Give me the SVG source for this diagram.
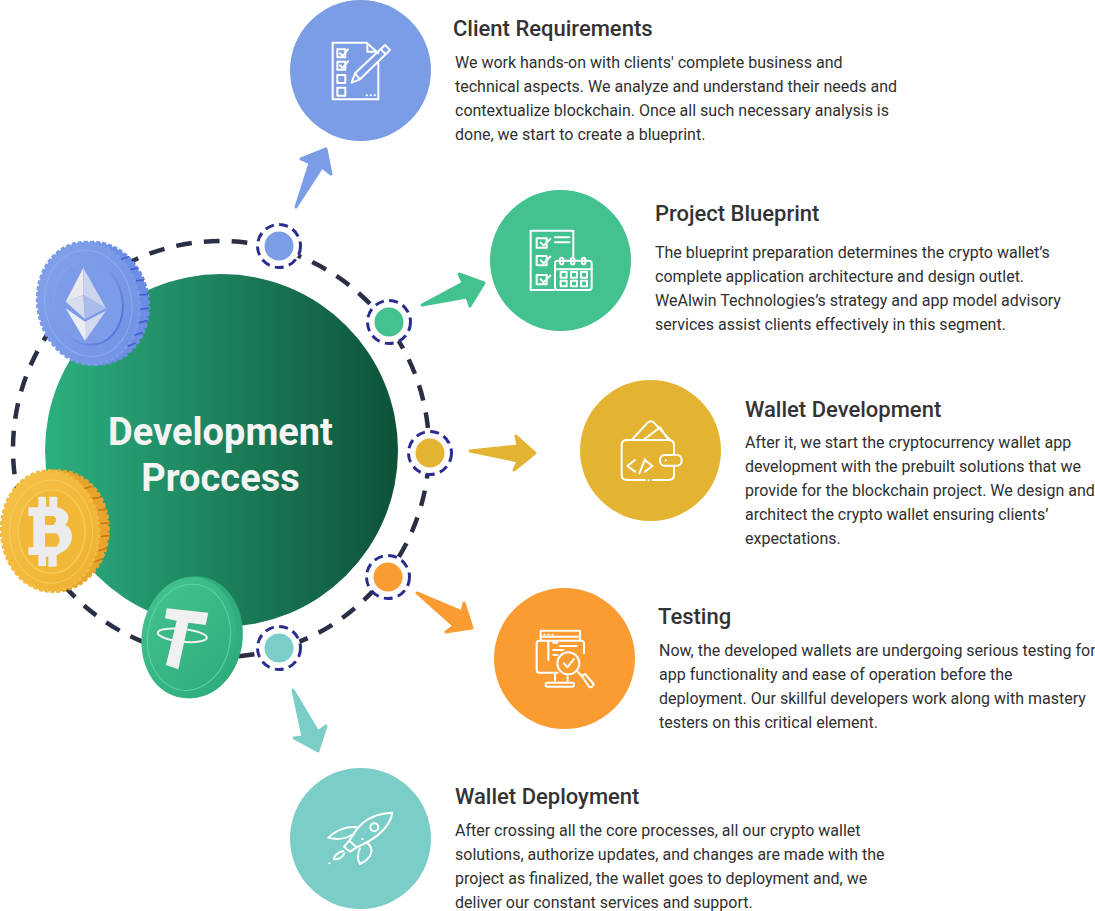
<svg xmlns="http://www.w3.org/2000/svg" width="1095" height="911" viewBox="0 0 1095 911">
<style>
text{font-family:Roboto,"Liberation Sans",sans-serif}
.h{font-size:22px;font-weight:500;fill:#333}
.b{font-size:16px;fill:#303030}
.t{font-size:38px;font-weight:700;fill:#f4f4f4;text-anchor:middle}
.ic{fill:none;stroke:#fff;stroke-width:6;stroke-linejoin:round;stroke-linecap:round}
.m{fill:#fff;stroke:#2a2c8f;stroke-width:3;stroke-dasharray:9 5.4}
.ar{stroke-width:3;stroke-linejoin:round}
.tick{stroke-width:5;stroke-linecap:round;fill:none}
.teeth{fill:none;stroke-width:9;stroke-dasharray:12 6}
</style>
<defs>
<linearGradient id="g" x1="0" x2="1" y1="0" y2="0"><stop offset="0" stop-color="#2cb07f"/><stop offset="1" stop-color="#0d5237"/></linearGradient>
<linearGradient id="gE" x1="0" x2="1" y1="0" y2="1"><stop offset="0" stop-color="#84a2ea"/><stop offset="1" stop-color="#7091e4"/></linearGradient>
<linearGradient id="sE" x1="0" x2="1" y1="0" y2="1"><stop offset="0" stop-color="#86a3ec"/><stop offset=".5" stop-color="#7a98e8"/><stop offset="1" stop-color="#4567d6"/></linearGradient>
<linearGradient id="gB" x1="0" x2="1" y1="0" y2="1"><stop offset="0" stop-color="#f6c34a"/><stop offset="1" stop-color="#efb02f"/></linearGradient>
<linearGradient id="gT" x1="0" x2="1" y1="0" y2="1"><stop offset="0" stop-color="#45c492"/><stop offset="1" stop-color="#2cab7a"/></linearGradient>
</defs>

<g id="connectors">
<circle cx="221" cy="449" r="208" fill="none" stroke="#2b2f45" stroke-width="4.500" stroke-dasharray="15.700 12.200" stroke-dashoffset="-14"/>
<polygon class="ar" fill="#7b9de6" stroke="#7b9de6" points="296,207 310,163 301,159 326,149 331,174 322,167"/>
<polygon class="ar" fill="#43c18f" stroke="#43c18f" points="422,305 463,283 459,274 484,283 470,306 467,297"/>
<polygon class="ar" fill="#e4b332" stroke="#e4b332" points="470,451 518,446 516,436 535,453 514,470 518,461"/>
<polygon class="ar" fill="#fb9c33" stroke="#fb9c33" points="417,593 462,612 464,603 472,628 446,632 454,626"/>
<polygon class="ar" fill="#7bcdc8" stroke="#7bcdc8" points="293,690 318,732 326,726 318,751 294,738 303,737"/>
</g>

<g id="center">
<circle cx="221.500" cy="450.500" r="176.500" fill="url(#g)"/>
<text class="t" x="220.500" y="445">Development</text>
<text class="t" x="220.500" y="491">Proccess</text>
</g>

<g id="dot-1"><circle class="m" cx="279" cy="246" r="21.500"/><circle cx="279" cy="246" r="14.500" fill="#7b9de6"/></g>
<g id="dot-2"><circle class="m" cx="389" cy="322" r="21.500"/><circle cx="389" cy="322" r="14.500" fill="#43c18f"/></g>
<g id="dot-3"><circle class="m" cx="430" cy="453" r="21.500"/><circle cx="430" cy="453" r="14.500" fill="#e4b332"/></g>
<g id="dot-4"><circle class="m" cx="388" cy="577" r="21.500"/><circle cx="388" cy="577" r="14.500" fill="#fb9c33"/></g>
<g id="dot-5"><circle class="m" cx="279" cy="648" r="21.500"/><circle cx="279" cy="648" r="14.500" fill="#7bcdc8"/></g>

<g id="coin-eth" transform="translate(0,220) scale(.3333)">
<ellipse cx="285" cy="250" rx="160" ry="184" transform="rotate(-10 285 250)" fill="#6d8ee4"/>
<ellipse cx="285" cy="250" rx="160" ry="184" transform="rotate(-10 285 250)" class="teeth" stroke="#6d8ee4"/>
<ellipse cx="265" cy="250" rx="152" ry="184" transform="rotate(-10 265 250)" fill="url(#gE)"/>
<ellipse cx="265" cy="250" rx="152" ry="184" transform="rotate(-10 265 250)" class="teeth" stroke="#7c9be8"/>
<ellipse cx="265" cy="250" rx="130" ry="160" transform="rotate(-10 265 250)" fill="none" stroke="#8fabf0" stroke-width="3"/>
<ellipse cx="265" cy="250" rx="103" ry="125" transform="rotate(-10 265 250)" fill="#7c9be8" stroke="url(#sE)" stroke-width="6"/>
<g class="tick" stroke="#3f5fd0">
<path d="M365 118l20-8M392 148l18-3M410 182l20-2M420 225l22-2M422 267l23-2M418 308l24-6M405 345l22-7M385 378l20-8"/>
</g>
<polygon points="250,143 197,245 250,225" fill="#e9e9ee"/>
<polygon points="250,143 250,225 318,265" fill="#ccd5ec"/>
<polygon points="197,245 250,225 255,297" fill="#d9deee"/>
<polygon points="250,225 318,265 255,297" fill="#a9bcea"/>
<polygon points="197,265 255,305 255,362" fill="#ecedf2"/>
<polygon points="255,305 318,272 255,362" fill="#d3daee"/>
</g>

<g id="coin-btc" transform="translate(0,460) scale(.3333)">
<ellipse cx="170" cy="213" rx="155" ry="181" transform="rotate(6 170 213)" fill="#e9a42b"/>
<ellipse cx="170" cy="213" rx="155" ry="181" transform="rotate(6 170 213)" class="teeth" stroke="#e9a42b"/>
<ellipse cx="150" cy="213" rx="146" ry="181" transform="rotate(-3 150 213)" fill="url(#gB)"/>
<ellipse cx="150" cy="213" rx="146" ry="181" transform="rotate(-3 150 213)" class="teeth" stroke="#f3bb40"/>
<ellipse cx="153" cy="215" rx="125" ry="155" fill="none" stroke="#f8cc5e" stroke-width="3"/>
<ellipse cx="155" cy="215" rx="100" ry="125" fill="#f1b737" stroke="#f7c856" stroke-width="5"/>
<g class="tick" stroke="#c77a17">
<path d="M255 85l18-5M280 115l20-3M295 150l22-2M302 190l24-1M304 230l22-3M298 272l24-8M285 305l20-8"/>
</g>
<path fill="#ececee" fill-rule="evenodd" d="M115 110H138V140H148V110H172V142C205 150 215 175 195 195C225 205 228 265 170 285V320H145V290H138V318H115V285H85V262H100V168H85V142H115ZM135 168H160Q178 178 160 195H135ZM135 220H170Q188 240 170 260H135Z"/>
</g>

<g id="coin-usdt" transform="translate(0,460) scale(.3333)">
<ellipse cx="578" cy="532" rx="150" ry="184" transform="rotate(8 578 532)" fill="#2fad7c"/>
<ellipse cx="567" cy="532" rx="142" ry="182" transform="rotate(8 567 532)" fill="url(#gT)"/>
<ellipse cx="567" cy="532" rx="124" ry="160" transform="rotate(8 567 532)" fill="none" stroke="#5fd3a6" stroke-width="3"/>
<polygon points="500,445 625,458 617,495 565,488 535,628 498,615 530,482 495,475" fill="#f0f0f0"/>
<ellipse cx="547" cy="526" rx="74" ry="19" transform="rotate(6 547 526)" fill="none" stroke="#f0f0f0" stroke-width="6"/>
</g>

<g id="node-1">
<circle cx="360.500" cy="70.500" r="70.500" fill="#7b9de6"/>
<g transform="translate(310,20) scale(.3333)" class="ic">
<path d="M205 130V238H68V68H170L205 100M172 72V95H195"/>
<rect x="82" y="88" width="24" height="24"/><rect x="82" y="125" width="24" height="24"/><rect x="82" y="165" width="24" height="24"/><rect x="82" y="203" width="24" height="24"/>
<path d="M90 100l8 8 16-20M90 136l8 8 16-20"/>
<path d="M125 188L135 160 225 75 240 90 150 178ZM135 160L150 178M212 88L228 103"/>
<path d="M170 226h1M182 226h1M194 226h1"/>
</g>
<text class="h" x="453" y="36">Client Requirements</text>
<text class="b" x="455" y="68">We work hands-on with clients' complete business and</text>
<text class="b" x="455" y="92">technical aspects. We analyze and understand their needs and</text>
<text class="b" x="455" y="116">contextualize blockchain. Once all such necessary analysis is</text>
<text class="b" x="455" y="140">done, we start to create a blueprint.</text>
</g>

<g id="node-2">
<circle cx="560.500" cy="260.500" r="70.500" fill="#43c18f"/>
<g transform="translate(510,210) scale(.3333)" class="ic">
<path d="M190 140V62H62V240H132"/>
<rect x="80" y="85" width="30" height="28"/><rect x="80" y="138" width="30" height="28"/><rect x="80" y="195" width="30" height="28"/>
<path d="M92 98l9 9 20-20M92 151l9 9 20-20M92 208l9 9 20-20M135 82H178M135 97H178"/>
<rect x="135" y="152" width="110" height="88" rx="8"/>
<path d="M135 178H245"/>
<rect x="150" y="143" width="10" height="20" rx="5"/><rect x="183" y="143" width="10" height="20" rx="5"/><rect x="216" y="143" width="10" height="20" rx="5"/>
<rect x="152" y="186" width="18" height="17"/><rect x="183" y="186" width="18" height="17"/><rect x="213" y="186" width="18" height="17"/>
<rect x="152" y="212" width="18" height="17"/><rect x="183" y="212" width="18" height="17"/><rect x="213" y="212" width="18" height="17"/>
</g>
<text class="h" x="655" y="221">Project Blueprint</text>
<text class="b" x="655" y="258">The blueprint preparation determines the crypto wallet’s</text>
<text class="b" x="655" y="282">complete application architecture and design outlet.</text>
<text class="b" x="655" y="306">WeAlwin Technologies’s strategy and app model advisory</text>
<text class="b" x="655" y="330">services assist clients effectively in this segment.</text>
</g>

<g id="node-3">
<circle cx="650.500" cy="450.500" r="70.500" fill="#e4b332"/>
<g transform="translate(600,400) scale(.3333)" class="ic">
<path d="M135 240H82Q65 240 65 225V135Q65 120 82 120H205Q222 120 222 135V165M222 197V225Q222 240 205 240H158"/>
<path d="M145 241h1"/>
<rect x="180" y="165" width="65" height="32" rx="14"/>
<path d="M197 181h1"/>
<path d="M95 120L143 68Q152 60 162 68L210 120M130 120L180 82 205 120"/>
<path d="M105 180L82 198 105 215M135 178L118 220M135 180L157 198 135 215"/>
</g>
<text class="h" x="745" y="417">Wallet Development</text>
<text class="b" x="745" y="448">After it, we start the cryptocurrency wallet app</text>
<text class="b" x="745" y="472">development with the prebuilt solutions that we</text>
<text class="b" x="745" y="496">provide for the blockchain project. We design and</text>
<text class="b" x="745" y="520">architect the crypto wallet ensuring clients’</text>
<text class="b" x="745" y="544">expectations.</text>
</g>

<g id="node-4">
<circle cx="564.500" cy="658.500" r="70.500" fill="#fb9c33"/>
<g transform="translate(515,610) scale(.3333)" class="ic">
<path d="M77 92V62H195V92M77 80H195"/>
<path d="M128 188H73Q65 188 65 180V100Q65 92 73 92H199Q207 92 207 100V130"/>
<path d="M120 188V212M158 195V212"/>
<rect x="92" y="218" width="85" height="12" rx="5"/>
<path d="M88 74h1M100 74h1M112 74h1M100 95v55M115 98h12M135 108h50M115 120h30M115 135h12"/>
<circle cx="160" cy="160" r="33" fill="#fb9c33"/>
<path d="M147 160l10 12 20-25M187 184L200 198"/>
<path d="M200 198L222 230Q232 235 236 222L210 192Z"/>
</g>
<text class="h" x="658" y="624">Testing</text>
<text class="b" x="659" y="656">Now, the developed wallets are undergoing serious testing for</text>
<text class="b" x="659" y="680">app functionality and ease of operation before the</text>
<text class="b" x="659" y="704">deployment. Our skillful developers work along with mastery</text>
<text class="b" x="659" y="728">testers on this critical element.</text>
</g>

<g id="node-5">
<circle cx="360.500" cy="838.500" r="70.500" fill="#7bcdc8"/>
<g transform="translate(310,790) scale(.3333)" class="ic">
<path d="M247 68C205 70 165 85 140 118L118 152 140 172C180 155 240 120 247 68Z"/>
<circle cx="193" cy="112" r="12"/>
<path d="M140 112C110 108 75 122 55 143 80 150 100 150 125 135"/>
<path d="M172 158C195 180 185 205 150 222 140 205 143 190 150 175"/>
<path d="M118 152L102 170 120 185 140 172"/>
<path d="M100 183C88 185 72 195 72 208 85 208 100 202 103 190M58 220h1M157 147h1"/>
</g>
<text class="h" x="455" y="804">Wallet Deployment</text>
<text class="b" x="455" y="836">After crossing all the core processes, all our crypto wallet</text>
<text class="b" x="455" y="860">solutions, authorize updates, and changes are made with the</text>
<text class="b" x="455" y="884">project as finalized, the wallet goes to deployment and, we</text>
<text class="b" x="455" y="908">deliver our constant services and support.</text>
</g>
</svg>
